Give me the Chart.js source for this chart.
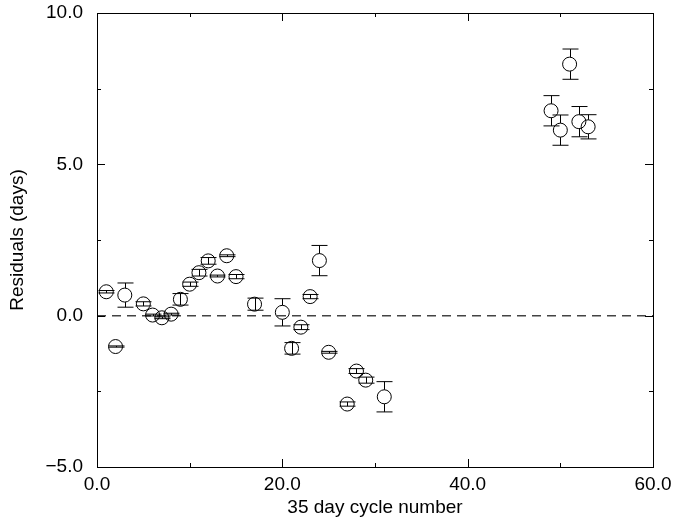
<!DOCTYPE html>
<html>
<head>
<meta charset="utf-8">
<title>Residuals vs 35 day cycle number</title>
<script src="https://cdn.jsdelivr.net/npm/chart.js@4.4.1/dist/chart.umd.min.js"></script>
<style>
  body { margin: 0; background: #fff; }
  #wrap { width: 675px; height: 521px; }
</style>
</head>
<body>
<div id="wrap"><canvas id="residChart" width="675" height="521"></canvas></div>
<script>
// data
const cycles = [1, 2, 3, 5, 6, 7, 8, 9, 10, 11, 12, 13, 14, 15, 17, 20, 21, 22, 23, 24, 25, 27, 28, 29, 31, 49, 50, 51, 52, 53];
const residuals = [0.79, -1.02, 0.68, 0.39, 0.02, -0.07, 0.05, 0.54, 1.04, 1.42, 1.81, 1.31, 1.98, 1.29, 0.38, 0.11, -1.08, -0.38, 0.63, 1.82, -1.21, -2.92, -1.83, -2.13, -2.68, 6.77, 6.13, 8.31, 6.41, 6.24];
const errors = [0.04, 0.02, 0.40, 0.07, 0.03, 0.03, 0.03, 0.19, 0.07, 0.11, 0.11, 0.03, 0.03, 0.07, 0.20, 0.45, 0.19, 0.08, 0.07, 0.50, 0.03, 0.07, 0.08, 0.10, 0.50, 0.50, 0.50, 0.50, 0.50, 0.40];

// axis ticks
const xMajor = [0, 20, 40, 60];
const xTickLabels = ['0.0', '20.0', '40.0', '60.0'];
const xMinor = [10, 30, 50];
const yMajor = [-5, 0, 5, 10];
const yTickLabels = ['\u22125.0', '0.0', '5.0', '10.0'];
const yMinor = [-2.5, 2.5, 7.5];

Chart.defaults.font.family = "'Liberation Sans', Arial, Helvetica, sans-serif";
Chart.defaults.font.size = 19;
Chart.defaults.color = '#000';

const pointRadius = 7;

// error bars (xmgr style, gap where the circle is)
const errorBars = {
  id: 'errorBars',
  afterDatasetsDraw(chart) {
    const ctx = chart.ctx;
    const xs = chart.scales.x, ys = chart.scales.y;
    ctx.save();
    ctx.strokeStyle = '#000';
    ctx.lineWidth = 1;
    for (let i = 0; i < cycles.length; i++) {
      const px = Math.round(xs.getPixelForValue(cycles[i])) + 0.5;
      const py = ys.getPixelForValue(residuals[i]);
      const yt = ys.getPixelForValue(residuals[i] + errors[i]);
      const yb = ys.getPixelForValue(residuals[i] - errors[i]);
      const d = py - yt;
      ctx.beginPath();
      if (d > pointRadius) {
        ctx.moveTo(px, yt); ctx.lineTo(px, py - pointRadius);
        ctx.moveTo(px, py + pointRadius); ctx.lineTo(px, yb);
      } else {
        ctx.moveTo(px, yt); ctx.lineTo(px, yb);
      }
      ctx.moveTo(px - 8, yt); ctx.lineTo(px + 8, yt);
      ctx.moveTo(px - 8, yb); ctx.lineTo(px + 8, yb);
      ctx.stroke();
    }
    ctx.restore();
  }
};

// frame with inward ticks on all four sides
const frameTicks = {
  id: 'frameTicks',
  afterDraw(chart) {
    const ctx = chart.ctx;
    const a = chart.chartArea;
    const xs = chart.scales.x, ys = chart.scales.y;
    ctx.save();
    ctx.strokeStyle = '#000';
    ctx.lineWidth = 1;
    ctx.strokeRect(a.left + 0.5, a.top + 0.5, a.right - a.left, a.bottom - a.top);
    ctx.beginPath();
    function xt(v, len) {
      const p = Math.round(xs.getPixelForValue(v)) + 0.5;
      ctx.moveTo(p, a.bottom); ctx.lineTo(p, a.bottom - len);
      ctx.moveTo(p, a.top); ctx.lineTo(p, a.top + len);
    }
    function yt(v, len) {
      const p = Math.round(ys.getPixelForValue(v)) + 0.5;
      ctx.moveTo(a.left, p); ctx.lineTo(a.left + len, p);
      ctx.moveTo(a.right, p); ctx.lineTo(a.right - len, p);
    }
    xMajor.forEach(v => xt(v, 8));
    xMinor.forEach(v => xt(v, 4));
    yMajor.forEach(v => yt(v, 8));
    yMinor.forEach(v => yt(v, 4));
    ctx.stroke();
    ctx.restore();
  }
};

const ctx = document.getElementById('residChart').getContext('2d');
const residChart = new Chart(ctx, {
  type: 'scatter',
  data: {
    datasets: [{
      label: 'Residuals',
      data: cycles.map((c, i) => ({ x: c, y: residuals[i] })),
      pointStyle: 'circle',
      pointRadius: pointRadius,
      pointBorderColor: '#000',
      pointBackgroundColor: 'rgba(0,0,0,0)',
      pointBorderWidth: 1,
      showLine: false,
      order: 1
    }, {
      type: 'line',
      label: 'zero',
      data: [{ x: 0, y: 0 }, { x: 60, y: 0 }],
      borderColor: '#444',
      borderWidth: 1.5,
      borderDash: [9, 6],
      pointRadius: 0,
      fill: false,
      order: 2
    }]
  },
  options: {
    responsive: false,
    animation: false,
    layout: { padding: { top: 13, right: 22, left: 0, bottom: 0 } },
    plugins: { legend: { display: false }, tooltip: { enabled: false } },
    scales: {
      x: {
        type: 'linear',
        min: 0, max: 60,
        afterBuildTicks: s => { s.ticks = xMajor.map(v => ({ value: v })); },
        afterFit: s => { s.height = 54; s.paddingLeft = 0; s.paddingRight = 0; },
        ticks: {
          padding: 6,
          maxRotation: 0,
          callback: v => xTickLabels[xMajor.indexOf(v)]
        },
        grid: { display: false, drawTicks: false },
        border: { display: false },
        title: { display: true, text: '35 day cycle number', padding: { top: 0, bottom: 2 } }
      },
      y: {
        type: 'linear',
        min: -5, max: 10,
        afterBuildTicks: s => { s.ticks = yMajor.map(v => ({ value: v })); },
        afterFit: s => { s.width = 97; s.paddingTop = 0; s.paddingBottom = 0; },
        ticks: {
          padding: 14,
          callback: v => yTickLabels[yMajor.indexOf(v)]
        },
        grid: { display: false, drawTicks: false },
        border: { display: false },
        title: { display: true, text: 'Residuals (days)', padding: { top: 6, bottom: 0 } }
      }
    }
  },
  plugins: [errorBars, frameTicks]
});
</script>
</body>
</html>
